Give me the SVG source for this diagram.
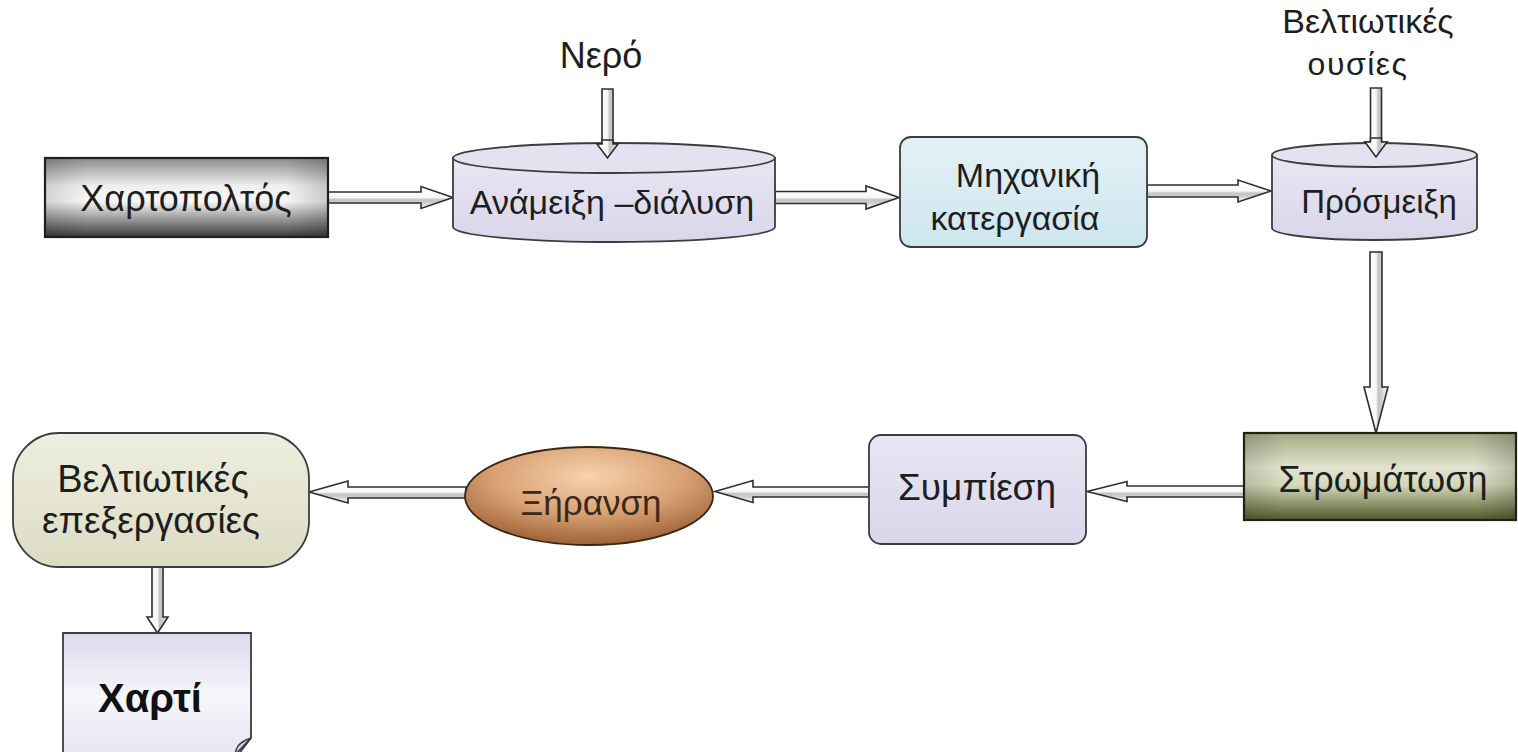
<svg xmlns="http://www.w3.org/2000/svg" width="1518" height="752" viewBox="0 0 1518 752">
  <style>
    text { font-family: "Liberation Sans", Arial, sans-serif; fill: #1e1e1e; text-anchor: middle; }
    .lbl { font-size: 34px; }
    .small { font-size: 32px; }
    .bold { font-size: 40px; font-weight: bold; fill: #111; }
    .arrow { stroke: #2e2e2e; stroke-width: 1.6; stroke-linejoin: miter; }
    .h { fill: url(#shaftH); }
    .v { fill: url(#shaftV); }
    .edge { stroke: #3c3c3c; stroke-width: 1.8; }
  </style>
  <defs>
    <!-- hollow arrow fills: white face, grey lower/right band -->
    <linearGradient id="shaftH" x1="0" y1="0" x2="0" y2="1">
      <stop offset="0" stop-color="#ffffff"/>
      <stop offset="0.5" stop-color="#f7f7f7"/>
      <stop offset="0.6" stop-color="#c4c4c4"/>
      <stop offset="0.74" stop-color="#cfcfcf"/>
      <stop offset="1" stop-color="#ffffff"/>
    </linearGradient>
    <linearGradient id="shaftV" x1="0" y1="0" x2="1" y2="0">
      <stop offset="0" stop-color="#ffffff"/>
      <stop offset="0.5" stop-color="#f7f7f7"/>
      <stop offset="0.6" stop-color="#c4c4c4"/>
      <stop offset="0.74" stop-color="#cfcfcf"/>
      <stop offset="1" stop-color="#ffffff"/>
    </linearGradient>
    <linearGradient id="metal" x1="0" y1="0" x2="0" y2="1">
      <stop offset="0" stop-color="#8a8a8a"/>
      <stop offset="0.35" stop-color="#efefef"/>
      <stop offset="0.55" stop-color="#f6f6f6"/>
      <stop offset="1" stop-color="#3a3a3a"/>
    </linearGradient>
    <linearGradient id="sideShade" x1="0" y1="0" x2="1" y2="0">
      <stop offset="0" stop-color="#000" stop-opacity="0.14"/>
      <stop offset="0.15" stop-color="#000" stop-opacity="0"/>
      <stop offset="0.85" stop-color="#000" stop-opacity="0"/>
      <stop offset="1" stop-color="#000" stop-opacity="0.18"/>
    </linearGradient>
    <linearGradient id="olive" x1="0" y1="0" x2="0" y2="1">
      <stop offset="0" stop-color="#a4a884"/>
      <stop offset="0.4" stop-color="#e2e4cf"/>
      <stop offset="0.6" stop-color="#d4d8b8"/>
      <stop offset="1" stop-color="#4f5a2a"/>
    </linearGradient>
    <linearGradient id="lavender" x1="0" y1="0" x2="0" y2="1">
      <stop offset="0" stop-color="#e8e6f3"/>
      <stop offset="1" stop-color="#d9d6ea"/>
    </linearGradient>
    <linearGradient id="iceblue" x1="0" y1="0" x2="0" y2="1">
      <stop offset="0" stop-color="#e2f1f6"/>
      <stop offset="1" stop-color="#cfe6ee"/>
    </linearGradient>
    <linearGradient id="beige" x1="0" y1="0" x2="0" y2="1">
      <stop offset="0" stop-color="#eeeedf"/>
      <stop offset="1" stop-color="#dcdcc4"/>
    </linearGradient>
    <radialGradient id="clay" cx="0.5" cy="0.3" r="0.7">
      <stop offset="0" stop-color="#f6d2ae"/>
      <stop offset="0.55" stop-color="#d9a173"/>
      <stop offset="1" stop-color="#9c6135"/>
    </radialGradient>
    <linearGradient id="sheet" x1="0" y1="0" x2="0" y2="1">
      <stop offset="0" stop-color="#dcdaee"/>
      <stop offset="0.5" stop-color="#f6f6fb"/>
      <stop offset="1" stop-color="#e6e4f2"/>
    </linearGradient>
  </defs>

  <!-- connectors: hollow block arrows -->
  <g id="connectors">
    <path class="arrow h" d="M328,192 H421 V186.5 L453,197.5 L421,208.5 V203 H328 Z"/>
    <path class="arrow h" d="M775,191.5 H866 V186 L899,197.5 L866,209 V203.5 H775 Z"/>
    <path class="arrow h" d="M1147,185 H1238 V180 L1271,191 L1238,202 V197 H1147 Z"/>
    <path class="arrow v" d="M602,89 H613 V144 H618 L607.5,158 L597,144 H602 Z"/>
    <path class="arrow v" d="M1370.5,88 H1381.5 V142 H1387 L1376,157 L1365,142 H1370.5 Z"/>
    <path class="arrow v" d="M1370,252 H1382 V387 H1388 L1376,433 L1364,387 H1370 Z"/>
    <path class="arrow h" d="M1244,486 H1127 V481.5 L1087,491.5 L1127,501.5 V497 H1244 Z"/>
    <path class="arrow h" d="M869,487 H753 V480.5 L715,491.5 L753,502.5 V497 H869 Z"/>
    <path class="arrow h" d="M466,487 H348 V481 L309,492 L348,503 V498 H466 Z"/>
    <path class="arrow v" d="M152,567 H163 V617 H168 L157.5,633 L147,617 H152 Z"/>
  </g>

  <g id="node-xartopoltos">
    <rect x="45" y="158" width="283" height="79" fill="url(#metal)"/>
    <rect x="45" y="158" width="283" height="79" fill="url(#sideShade)" stroke="#1f1f1f" stroke-width="2.2"/>
    <text class="lbl" x="186" y="211" style="font-size:36px">Χαρτοπολτός</text>
  </g>

  <g id="label-nero">
    <text class="lbl" x="601" y="68" style="font-size:36px">Νερό</text>
  </g>

  <g id="node-anameixi">
    <path class="edge" fill="url(#lavender)" d="M453,158 V227 A161,15 0 0 0 775,227 V158 Z"/>
    <ellipse class="edge" cx="614" cy="158" rx="161" ry="15" fill="#e4e1f0"/>
    <path class="arrow v" d="M602,140 H613 V144 H618 L607.5,158 L597,144 H602 Z"/>
    <text class="lbl" x="612" y="214">Ανάμειξη –διάλυση</text>
  </g>

  <g id="node-michaniki">
    <rect class="edge" x="900" y="137" width="247" height="110" rx="11" fill="url(#iceblue)"/>
    <text class="lbl" x="1028" y="187">Μηχανική</text>
    <text class="lbl" x="1015" y="230">κατεργασία</text>
  </g>

  <g id="label-ousies">
    <text class="small" x="1368" y="33" style="font-size:34px">Βελτιωτικές</text>
    <text class="small" x="1358" y="75" style="letter-spacing:1.5px">ουσίες</text>
  </g>

  <g id="node-prosmeixi">
    <path class="edge" fill="url(#lavender)" d="M1272,155 V228 A102.5,12 0 0 0 1477,228 V155 Z"/>
    <ellipse class="edge" cx="1374.5" cy="155" rx="102.5" ry="12" fill="#e4e1f0"/>
    <path class="arrow v" d="M1370.5,138 H1381.5 V142 H1387 L1376,157 L1365,142 H1370.5 Z"/>
    <text class="lbl" x="1379" y="213" style="font-size:33px">Πρόσμειξη</text>
  </g>

  <g id="node-stromatosi">
    <rect x="1244" y="433" width="272" height="87" fill="url(#olive)"/>
    <rect x="1244" y="433" width="272" height="87" fill="url(#sideShade)" stroke="#1f2410" stroke-width="2.2"/>
    <text class="lbl" x="1383" y="492" style="font-size:36px">Στρωμάτωση</text>
  </g>

  <g id="node-sympiesi">
    <rect class="edge" x="869" y="435" width="217" height="109" rx="12" fill="url(#lavender)"/>
    <text class="lbl" x="977" y="500" style="font-size:37px">Συμπίεση</text>
  </g>

  <g id="node-xiransi">
    <ellipse cx="589" cy="496" rx="124" ry="49" fill="url(#clay)" stroke="#3a2614" stroke-width="1.8"/>
    <text class="lbl" x="591" y="515" style="fill:#3a2a1c;font-size:35px">Ξήρανση</text>
  </g>

  <g id="node-epexergasies">
    <rect class="edge" x="13" y="433" width="296" height="134" rx="46" fill="url(#beige)"/>
    <text class="lbl" x="153" y="492" style="font-size:38px">Βελτιωτικές</text>
    <text class="lbl" x="151" y="533" style="font-size:37px">επεξεργασίες</text>
  </g>

  <g id="node-xarti">
    <path class="edge" fill="url(#sheet)" d="M63,760 V633 H251 V738 L234,760"/>
    <path d="M251,738 Q242,741 238,746 Q236,750 234,756 Q243,746 251,738 Z" fill="#d8d6e8" stroke="#3c3c3c" stroke-width="1.5"/>
    <text class="bold" x="150" y="712">Χαρτί</text>
  </g>
</svg>
